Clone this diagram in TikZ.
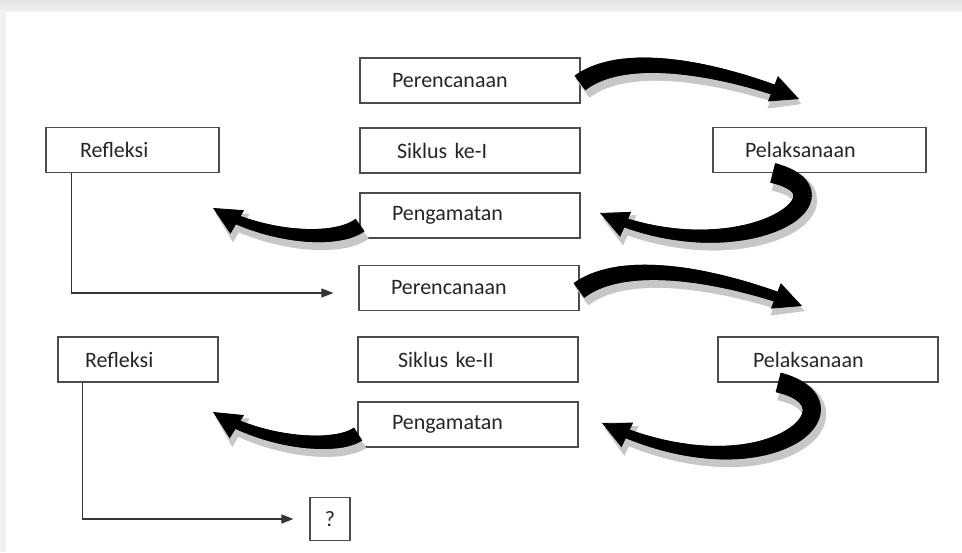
\documentclass[tikz,border=0pt]{standalone}
\usepackage{fontspec}
\setmainfont{Carlito}
\usetikzlibrary{positioning,arrows.meta,decorations.markings}

\begin{document}
\begin{tikzpicture}[x=0.5pt, y=-0.5pt,
    box/.style={draw=black!70, line width=0.6pt, fill=white, minimum height=22.5pt, text width=78pt, inner xsep=16pt, align=left, font=\fontsize{11}{13}\selectfont, text=black!85},
    flow/.style={draw=black!80, line width=0.6pt, -{Triangle[length=6pt, width=4.5pt]}},
    % tapered block arrow: half width at start, half width at end, colour
    taper/.style n args={3}{draw=#3, line width=0.4pt, postaction={decorate}, decoration={markings,
      mark=between positions 0 and -11pt step 0.5pt with {%
        \pgfmathsetmacro\hw{(#1)-((#1)-(#2))*\pgfkeysvalueof{/pgf/decoration/mark info/distance from start}/\pgfdecoratedpathlength}%
        \fill[#3] (-0.45pt,-\hw pt) rectangle (0.45pt,\hw pt);}}},
    bigarrow/.style 2 args={taper={#1}{#2}{black}, -{Triangle[length=14pt, width=13.5pt]}},
    bigshade/.style 2 args={taper={(#1)+1.5}{(#2)+1.2}{black!22}, -{Triangle[length=15pt, width=16.5pt]}}]
  % page
  \useasboundingbox (0,0) rectangle (962,552);
  \fill[black!5] (0,0) rectangle (962,552);
  \shade[top color=black!11, bottom color=black!5] (0,0) rectangle (962,12);
  \fill[white] (6,12) rectangle (962,552);

  % siklus I
  \node[box] (per1) at (470,80.5) {Perencanaan};
  \node[box, text width=52.5pt, inner xsep=17pt] (ref1) at (132.5,150) {Refleksi};
  \node[box, text width=73pt, inner xsep=18.5pt] (sik1) at (470,150.5) {Siklus ke-I};
  \node[box, text width=74.5pt] (pel1) at (819.5,150) {Pelaksanaan};
  \node[box] (pen1) at (470,215.5) {Pengamatan};

  % siklus II
  \node[box] (per2) at (469,288) {Perencanaan};
  \node[box, text width=53pt, inner xsep=13.5pt] (ref2) at (138,359.5) {Refleksi};
  \node[box, text width=70pt, inner xsep=20pt] (sik2) at (468,359.5) {Siklus ke-II};
  \node[box, text width=75pt, inner xsep=17.5pt] (pel2) at (828,359.5) {Pelaksanaan};
  \node[box, text width=76pt, inner xsep=17pt] (pen2) at (468,424.5) {Pengamatan};
  \node[box, text width=6pt, inner xsep=7pt, minimum height=21.5pt, align=center] (q) at (330,519) {?};

  % free ends of the curved arrows
  \coordinate (a1) at (799,99);
  \coordinate (a2) at (600,213);
  \coordinate (a3) at (213,208);
  \coordinate (a4) at (802,306);
  \coordinate (a5) at (602,423);
  \coordinate (a6) at (213,412);

  \foreach \s/\d in {bigshade/{1.2pt,-2.5pt}, bigarrow/{0pt,0pt}} {
    \begin{scope}[transform canvas={shift={(\d)}}]
    \path[\s={4.5}{2.3}] ([yshift=-1pt]per1.east) .. controls (625,50) and (720,68) .. (a1);
    \path[\s={5}{2}] ([xshift=-23pt]pel1.south) .. controls (860,195) and (740,275) .. (a2);
    \path[\s={3.8}{2}] ([yshift=-5pt]pen1.west) .. controls (335,243) and (265,238) .. (a3);
    \path[\s={4.5}{2.3}] ([yshift=-1pt]per2.east) .. controls (625,257) and (722,275) .. (a4);
    \path[\s={5}{2}] ([xshift=-24.5pt]pel2.south) .. controls (868,405) and (765,500) .. (a5);
    \path[\s={3.8}{2}] ([yshift=-5pt]pen2.west) .. controls (335,449) and (265,444) .. (a6);
    \end{scope}
  }

  % to the next cycle
  \draw[flow] ([xshift=13pt]ref1.south west) |- ([xshift=-12.5pt, yshift=-2.5pt]per2.west);
  \draw[flow] ([xshift=12.5pt]ref2.south west) |- ([xshift=-8pt]q.west);
\end{tikzpicture}
\end{document}
